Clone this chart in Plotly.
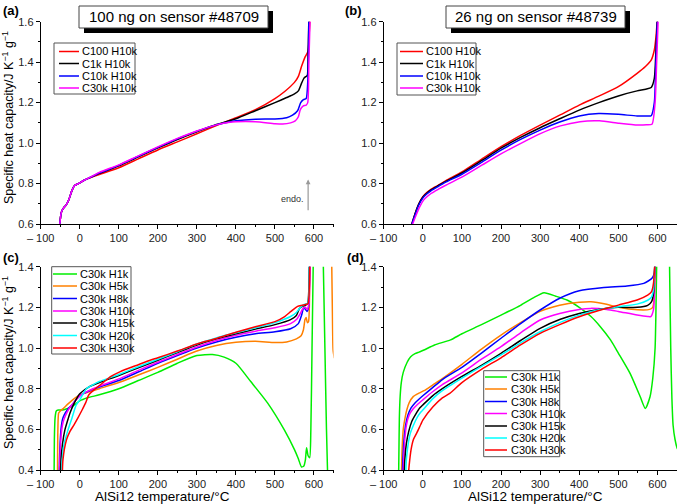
import plotly.graph_objects as go

# ---------------- data ----------------
# Panel (a): 100 ng on sensor #48709
a_names = ["C100 H10k", "C1k H10k", "C10k H10k", "C30k H10k"]
a_colors = ["#ff0000", "#000000", "#0000ff", "#ff00ff"]
a_low_T = [-51, -48, -45, -40, -35, -28, -20, -13, -5, 0, 10, 20]
a_low_cp = [0.6, 0.65, 0.668, 0.683, 0.693, 0.72, 0.765, 0.79, 0.798, 0.803, 0.815, 0.824]
a_C100_T = a_low_T + [50, 100, 150, 200, 250, 300, 350, 400, 450, 500, 525, 550, 560, 568, 577, 584, 586, 588, 590]
a_C100_cp = a_low_cp + [0.845, 0.878, 0.922, 0.966, 1.006, 1.046, 1.087, 1.125, 1.165, 1.22, 1.255, 1.30, 1.33, 1.378, 1.425, 1.45, 1.47, 1.55, 1.62]
a_C1k_T = a_low_T + [50, 100, 150, 200, 250, 300, 350, 400, 450, 500, 530, 550, 560, 568, 574, 580, 583, 585, 587]
a_C1k_cp = a_low_cp + [0.85, 0.888, 0.932, 0.976, 1.018, 1.056, 1.092, 1.12, 1.16, 1.2, 1.225, 1.243, 1.258, 1.295, 1.32, 1.33, 1.335, 1.45, 1.62]
a_C10k_T = a_low_T + [50, 100, 150, 200, 250, 300, 350, 380, 400, 450, 500, 530, 545, 558, 566, 573, 580, 584, 587]
a_C10k_cp = a_low_cp + [0.852, 0.89, 0.935, 0.979, 1.021, 1.059, 1.09, 1.103, 1.11, 1.118, 1.119, 1.125, 1.138, 1.16, 1.2, 1.215, 1.22, 1.3, 1.62]
a_C30k_T = a_low_T + [50, 100, 150, 200, 250, 300, 350, 380, 400, 450, 500, 520, 540, 552, 560, 565, 572, 580, 584, 587, 590]
a_C30k_cp = a_low_cp + [0.855, 0.892, 0.937, 0.981, 1.023, 1.06, 1.09, 1.102, 1.106, 1.106, 1.096, 1.094, 1.1, 1.11, 1.13, 1.165, 1.183, 1.188, 1.2, 1.4, 1.62]

# Panel (b): 26 ng on sensor #48739
b_T = [-28, -20, -10, 0, 10, 20, 38, 60, 100, 150, 200, 250, 300, 350, 400, 450, 500, 548, 570, 584, 592, 596, 600]
b_C100_cp = [0.6, 0.65, 0.7, 0.735, 0.755, 0.77, 0.79, 0.815, 0.857, 0.92, 0.982, 1.038, 1.089, 1.138, 1.188, 1.232, 1.279, 1.345, 1.38, 1.41, 1.46, 1.52, 1.62]
b_C1k_cp = [0.6, 0.65, 0.7, 0.733, 0.752, 0.767, 0.788, 0.812, 0.852, 0.913, 0.975, 1.028, 1.076, 1.12, 1.163, 1.2, 1.233, 1.258, 1.266, 1.275, 1.32, 1.45, 1.62]
b_C10k_cp = [0.6, 0.645, 0.695, 0.728, 0.748, 0.763, 0.784, 0.808, 0.846, 0.905, 0.965, 1.018, 1.064, 1.104, 1.134, 1.146, 1.142, 1.134, 1.134, 1.135, 1.2, 1.4, 1.62]
b_C30k_T = [-26, -18, -8, 2, 12, 22, 40, 62, 102, 152, 202, 252, 302, 352, 402, 452, 502, 550, 572, 586, 594, 598, 602]
b_C30k_cp = [0.6, 0.64, 0.685, 0.718, 0.737, 0.752, 0.772, 0.795, 0.834, 0.892, 0.949, 1.0, 1.048, 1.085, 1.106, 1.11, 1.098, 1.089, 1.09, 1.093, 1.2, 1.4, 1.62]

# Panel (c) and (d): C30k with different heating rates
cd_names = ["C30k H1k", "C30k H5k", "C30k H8k", "C30k H10k", "C30k H15k", "C30k H20k", "C30k H30k"]
cd_colors = ["#00ee00", "#ff8000", "#0000ff", "#ff00ff", "#000000", "#00ffff", "#ff0000"]

c_H1k_T = [-66, -65, -63, -60, -55, -45, -35, -23, -10, 0, 20, 50, 100, 150, 200, 250, 300, 340, 370, 400, 438, 481, 524, 550, 560, 568, 574, 578, 581, 585, 589, 592, 595, 598, 602, 612, 620, 624, 628, 632, 636]
c_H1k_cp = [0.3, 0.55, 0.66, 0.69, 0.695, 0.695, 0.7, 0.71, 0.725, 0.74, 0.755, 0.77, 0.8, 0.84, 0.88, 0.925, 0.963, 0.968, 0.955, 0.925, 0.835, 0.73, 0.597, 0.5, 0.455, 0.415, 0.42, 0.45, 0.51, 0.47, 0.46, 0.6, 1.0, 1.4, 1.8, 2.0, 1.8, 1.4, 1.0, 0.6, 0.3]
c_H5k_T = [-57, -56, -54, -50, -41, -30, -15, 0, 25, 50, 100, 150, 200, 250, 300, 350, 400, 450, 500, 530, 555, 567, 573, 577, 580, 583, 586, 589, 592, 596, 620, 640, 644, 647, 649, 652]
c_H5k_cp = [0.35, 0.6, 0.68, 0.69, 0.705, 0.725, 0.75, 0.768, 0.785, 0.8, 0.83, 0.867, 0.905, 0.945, 0.985, 1.012, 1.028, 1.033, 1.027, 1.03, 1.045, 1.06, 1.09, 1.14, 1.15, 1.125, 1.13, 1.3, 1.5, 1.7, 2.0, 1.9, 1.6, 1.2, 0.99, 0.95]
c_H8k_T = [-53, -51, -48, -44, -40, -30, -20, -10, 0, 25, 50, 100, 150, 200, 250, 300, 350, 400, 450, 500, 540, 560, 568, 574, 578, 582, 586, 589, 592]
c_H8k_cp = [0.35, 0.5, 0.6, 0.65, 0.67, 0.7, 0.72, 0.745, 0.765, 0.79, 0.808, 0.84, 0.882, 0.925, 0.963, 1.0, 1.03, 1.053, 1.07, 1.08, 1.095, 1.12, 1.16, 1.2, 1.19, 1.18, 1.2, 1.4, 1.7]
c_H10k_T = [-52, -50, -46, -42, -36, -28, -18, -8, 0, 25, 50, 100, 150, 200, 250, 300, 350, 400, 450, 500, 540, 555, 565, 572, 578, 583, 587, 590, 593]
c_H10k_cp = [0.35, 0.5, 0.6, 0.64, 0.67, 0.7, 0.725, 0.748, 0.765, 0.792, 0.812, 0.848, 0.89, 0.93, 0.968, 1.005, 1.037, 1.063, 1.083, 1.1, 1.12, 1.14, 1.17, 1.195, 1.2, 1.19, 1.22, 1.4, 1.7]
c_H15k_T = [-50, -48, -44, -38, -30, -25, -15, -4, 0, 25, 50, 100, 150, 200, 250, 300, 350, 400, 450, 500, 540, 555, 563, 570, 578, 584, 588, 591]
c_H15k_cp = [0.35, 0.45, 0.53, 0.597, 0.65, 0.68, 0.725, 0.765, 0.775, 0.81, 0.83, 0.865, 0.903, 0.94, 0.978, 1.015, 1.045, 1.07, 1.093, 1.115, 1.14, 1.16, 1.195, 1.205, 1.21, 1.22, 1.4, 1.7]
c_H20k_T = [-47, -45, -40, -30, -20, -9, 0, 17, 30, 50, 100, 150, 200, 250, 300, 350, 400, 450, 500, 540, 555, 565, 575, 584, 588, 591]
c_H20k_cp = [0.35, 0.45, 0.53, 0.597, 0.655, 0.72, 0.745, 0.80, 0.815, 0.835, 0.87, 0.908, 0.945, 0.982, 1.02, 1.05, 1.075, 1.1, 1.125, 1.155, 1.175, 1.2, 1.215, 1.22, 1.4, 1.7]
c_H30k_T = [-45, -43, -34, -25, -15, -5, 6, 15, 23, 36, 60, 80, 104, 150, 182, 200, 250, 300, 350, 400, 450, 500, 525, 541, 558, 570, 580, 585, 589, 592]
c_H30k_cp = [0.35, 0.45, 0.548, 0.59, 0.621, 0.655, 0.695, 0.73, 0.769, 0.793, 0.83, 0.86, 0.884, 0.918, 0.941, 0.952, 0.985, 1.02, 1.047, 1.078, 1.105, 1.13, 1.155, 1.18, 1.205, 1.21, 1.215, 1.22, 1.4, 1.7]

d_H1k_T = [-62, -61, -60, -58, -55, -50, -40, -31, -20, -10, 3, 30, 71, 100, 150, 200, 250, 281, 310, 340, 370, 400, 430, 454, 480, 500, 530, 556, 569, 581, 588, 594, 598, 602, 615, 628, 631, 634, 637, 640, 645, 650, 655]
d_H1k_cp = [0.35, 0.5, 0.65, 0.76, 0.83, 0.88, 0.93, 0.957, 0.972, 0.98, 0.99, 1.015, 1.04, 1.07, 1.115, 1.162, 1.21, 1.245, 1.272, 1.255, 1.235, 1.2, 1.155, 1.105, 1.04, 0.975, 0.875, 0.76, 0.703, 0.76, 0.85, 1.0, 1.4, 1.8, 2.0, 1.8, 1.4, 1.0, 0.75, 0.62, 0.55, 0.51, 0.49]
d_H5k_T = [-55, -53, -50, -45, -41, -35, -24, -10, 3, 25, 50, 100, 150, 200, 250, 300, 350, 400, 430, 470, 500, 550, 580, 588, 593, 597]
d_H5k_cp = [0.35, 0.5, 0.6, 0.66, 0.695, 0.73, 0.762, 0.778, 0.79, 0.818, 0.85, 0.92, 0.995, 1.064, 1.125, 1.18, 1.21, 1.225, 1.228, 1.215, 1.2, 1.188, 1.19, 1.2, 1.3, 1.7]
d_H8k_T = [-53, -51, -48, -44, -38, -30, -20, -10, 0, 25, 50, 100, 150, 200, 250, 300, 350, 400, 463, 522, 565, 586, 592, 595, 598]
d_H8k_cp = [0.35, 0.45, 0.55, 0.62, 0.67, 0.705, 0.73, 0.748, 0.765, 0.805, 0.845, 0.905, 0.975, 1.048, 1.12, 1.187, 1.245, 1.282, 1.298, 1.305, 1.318, 1.343, 1.37, 1.5, 1.7]
d_H10k_T = [-51, -49, -46, -42, -35, -25, -15, 0, 25, 50, 100, 150, 200, 250, 300, 350, 400, 429, 470, 500, 548, 575, 583, 590, 594, 598]
d_H10k_cp = [0.35, 0.45, 0.55, 0.62, 0.67, 0.7, 0.72, 0.745, 0.785, 0.82, 0.878, 0.945, 1.007, 1.075, 1.138, 1.17, 1.19, 1.195, 1.19, 1.18, 1.162, 1.155, 1.155, 1.19, 1.4, 1.7]
d_H15k_T = [-48, -46, -42, -36, -28, -18, -8, 0, 25, 50, 100, 150, 200, 250, 300, 350, 400, 450, 500, 548, 575, 585, 590, 594, 598]
d_H15k_cp = [0.35, 0.45, 0.53, 0.59, 0.64, 0.675, 0.705, 0.72, 0.765, 0.8, 0.86, 0.915, 0.974, 1.037, 1.097, 1.14, 1.17, 1.19, 1.2, 1.2, 1.21, 1.228, 1.27, 1.45, 1.7]
d_H20k_T = [-44, -42, -38, -32, -24, -14, -5, 0, 25, 50, 100, 150, 200, 250, 300, 350, 400, 450, 500, 548, 575, 585, 590, 594, 598]
d_H20k_cp = [0.35, 0.45, 0.52, 0.58, 0.62, 0.66, 0.685, 0.695, 0.75, 0.79, 0.852, 0.91, 0.966, 1.025, 1.08, 1.125, 1.162, 1.188, 1.203, 1.216, 1.235, 1.252, 1.29, 1.45, 1.7]
d_H30k_T = [-38, -35, -30, -24, -16, -5, 0, 26, 50, 69, 100, 150, 200, 250, 300, 350, 400, 450, 500, 548, 575, 585, 590, 594, 598]
d_H30k_cp = [0.35, 0.42, 0.5, 0.55, 0.58, 0.625, 0.645, 0.711, 0.755, 0.777, 0.83, 0.895, 0.952, 1.015, 1.072, 1.115, 1.154, 1.185, 1.211, 1.236, 1.26, 1.277, 1.32, 1.45, 1.7]

x_tickvals = [-100, 0, 100, 200, 300, 400, 500, 600]
x_ticktext = ["\u2013 100", "0", "100", "200", "300", "400", "500", "600"]
y_top_ticks = [0.6, 0.8, 1.0, 1.2, 1.4, 1.6]
y_bot_ticks = [0.4, 0.6, 0.8, 1.0, 1.2, 1.4]
panel_titles = ["100 ng on sensor #48709", "26 ng on sensor #48739"]
panel_letters = ["(a)", "(b)", "(c)", "(d)"]
y_title = "Specific heat capacity/J K<sup>\u22121</sup> g<sup>\u22121</sup>"
x_title = "AlSi12 temperature/\u00b0C"

# ---------------- figure ----------------
W, H = 677, 504
FONT = "Liberation Sans, Arial, sans-serif"

def px(x):
    return x / W

def py(y):
    return 1 - y / H

fig = go.Figure()

def add(T, cp, color, ax):
    xa = "x" if ax == 1 else "x%d" % ax
    ya = "y" if ax == 1 else "y%d" % ax
    fig.add_trace(go.Scatter(x=T, y=cp, mode="lines", xaxis=xa, yaxis=ya,
                             line=dict(color=color, width=1.5, shape="spline", smoothing=0.6),
                             showlegend=False, hoverinfo="skip"))

a_series = [(a_C100_T, a_C100_cp), (a_C1k_T, a_C1k_cp), (a_C10k_T, a_C10k_cp), (a_C30k_T, a_C30k_cp)]
for (T, cp), col in zip(a_series, a_colors):
    add(T, cp, col, 1)
b_series = [(b_T, b_C100_cp), (b_T, b_C1k_cp), (b_T, b_C10k_cp), (b_C30k_T, b_C30k_cp)]
for (T, cp), col in zip(b_series, a_colors):
    add(T, cp, col, 2)
c_series = [(c_H1k_T, c_H1k_cp), (c_H5k_T, c_H5k_cp), (c_H8k_T, c_H8k_cp), (c_H10k_T, c_H10k_cp),
            (c_H15k_T, c_H15k_cp), (c_H20k_T, c_H20k_cp), (c_H30k_T, c_H30k_cp)]
for (T, cp), col in zip(c_series, cd_colors):
    add(T, cp, col, 3)
d_series = [(d_H1k_T, d_H1k_cp), (d_H5k_T, d_H5k_cp), (d_H8k_T, d_H8k_cp), (d_H10k_T, d_H10k_cp),
            (d_H15k_T, d_H15k_cp), (d_H20k_T, d_H20k_cp), (d_H30k_T, d_H30k_cp)]
for (T, cp), col in zip(d_series, cd_colors):
    add(T, cp, col, 4)

def xaxis(domain):
    return dict(domain=domain, range=[-100, 650], tickvals=x_tickvals, ticktext=x_ticktext,
                showline=True, linecolor="black", linewidth=1, ticks="outside", ticklen=4,
                tickcolor="black", showgrid=False, zeroline=False, automargin=False,
                tickfont=dict(family=FONT, size=11, color="#222"),
                minor=dict(dtick=50, tick0=-100, ticks="outside", ticklen=2, tickcolor="black", showgrid=False))

def yaxis(domain, rng, ticks, anchor):
    return dict(domain=domain, range=rng, tickvals=ticks, ticktext=["%.1f" % t for t in ticks],
                showline=True, linecolor="black", linewidth=1, ticks="outside", ticklen=4,
                tickcolor="black", showgrid=False, zeroline=False, automargin=False, anchor=anchor,
                tickfont=dict(family=FONT, size=11, color="#222"),
                minor=dict(dtick=0.1, tick0=0, ticks="outside", ticklen=2, tickcolor="black", showgrid=False))

left = [px(40.7), px(333.5)]
right = [px(383.7), 1.0]
top = [py(224), py(21.7)]
bot = [py(470), py(266.7)]

fig.update_layout(
    width=W, height=H, margin=dict(l=0, r=0, t=0, b=0),
    paper_bgcolor="white", plot_bgcolor="white", showlegend=False,
    font=dict(family=FONT, color="black"),
    xaxis=dict(xaxis(left), anchor="y"), yaxis=yaxis(top, [0.6, 1.6], y_top_ticks, "x"),
    xaxis2=dict(xaxis(right), anchor="y2"), yaxis2=yaxis(top, [0.6, 1.6], y_top_ticks, "x2"),
    xaxis3=dict(xaxis(left), anchor="y3"), yaxis3=yaxis(bot, [0.4, 1.4], y_bot_ticks, "x3"),
    xaxis4=dict(xaxis(right), anchor="y4"), yaxis4=yaxis(bot, [0.4, 1.4], y_bot_ticks, "x4"),
)

shapes = []
annots = []

# title boxes with drop shadow
for (x0, x1), txt in zip([(79, 268), (446, 625)], panel_titles):
    shapes.append(dict(type="rect", xref="paper", yref="paper", x0=px(x0 + 5), x1=px(x1 + 5),
                       y0=py(33), y1=py(11), fillcolor="black", line=dict(width=0)))
    shapes.append(dict(type="rect", xref="paper", yref="paper", x0=px(x0), x1=px(x1),
                       y0=py(28), y1=py(6), fillcolor="white", line=dict(color="#444", width=1)))
    annots.append(dict(text=txt, xref="paper", yref="paper", x=px((x0 + x1) / 2), y=py(17),
                       showarrow=False, font=dict(size=15, family=FONT, color="black"),
                       xanchor="center", yanchor="middle"))

# manual legends
def legend(box, line_x, text_x, ys, names, colors):
    bx0, bx1, by0, by1 = box
    shapes.append(dict(type="rect", xref="paper", yref="paper", x0=px(bx0), x1=px(bx1),
                       y0=py(by1), y1=py(by0), fillcolor="white", line=dict(color="#555", width=1)))
    for yy, nm, col in zip(ys, names, colors):
        shapes.append(dict(type="line", xref="paper", yref="paper", x0=px(line_x[0]), x1=px(line_x[1]),
                           y0=py(yy), y1=py(yy), line=dict(color=col, width=1.5)))
        annots.append(dict(text=nm, xref="paper", yref="paper", x=px(text_x), y=py(yy),
                           showarrow=False, xanchor="left", yanchor="middle",
                           font=dict(size=11, family=FONT, color="black")))

legend((54, 135, 43, 94), (59, 79), 80, [51.5, 63.5, 76, 88], a_names, a_colors)
legend((397, 476, 43, 95), (400, 423), 424, [51.5, 63.5, 76, 88], a_names, a_colors)
legend((51.7, 131, 266.7, 354), (53, 77), 78, [274, 286, 298.5, 311, 323, 335.5, 348], cd_names, cd_colors)
legend((483.7, 559.7, 370.7, 456.7), (485, 507), 509, [377, 389, 401.5, 413.5, 426, 438, 450], cd_names, cd_colors)

# panel letters
for (x, y), t in zip([(11, 10), (353, 10), (11, 257), (355, 257)], panel_letters):
    annots.append(dict(text="<b>%s</b>" % t, xref="paper", yref="paper", x=px(x), y=py(y),
                       showarrow=False, xanchor="center", yanchor="middle",
                       font=dict(size=13, family=FONT, color="black")))

# axis titles
for yc in [118, 363]:
    annots.append(dict(text=y_title, xref="paper", yref="paper", x=px(8), y=py(yc), textangle=-90,
                       showarrow=False, xanchor="center", yanchor="middle",
                       font=dict(size=12.5, family=FONT, color="black")))
for xc in [162, 535]:
    annots.append(dict(text=x_title, xref="paper", yref="paper", x=px(xc), y=py(496), showarrow=False,
                       xanchor="center", yanchor="middle", font=dict(size=13.5, family=FONT, color="black")))

# endo. arrow in (a)
annots.append(dict(x=585, y=0.82, ax=585, ay=0.66, xref="x", yref="y", axref="x", ayref="y",
                   text="", showarrow=True, arrowhead=2, arrowsize=0.8, arrowwidth=1.2, arrowcolor="#999"))
annots.append(dict(x=580, y=0.724, xref="x", yref="y", text="endo.", showarrow=False, xanchor="right",
                   yanchor="middle", font=dict(size=9, family=FONT, color="#333")))

fig.update_layout(shapes=shapes, annotations=annots)
fig.write_html("out.html", config={"displayModeBar": False},
               post_script="document.body.style.margin='0';document.body.style.overflow='hidden';")
